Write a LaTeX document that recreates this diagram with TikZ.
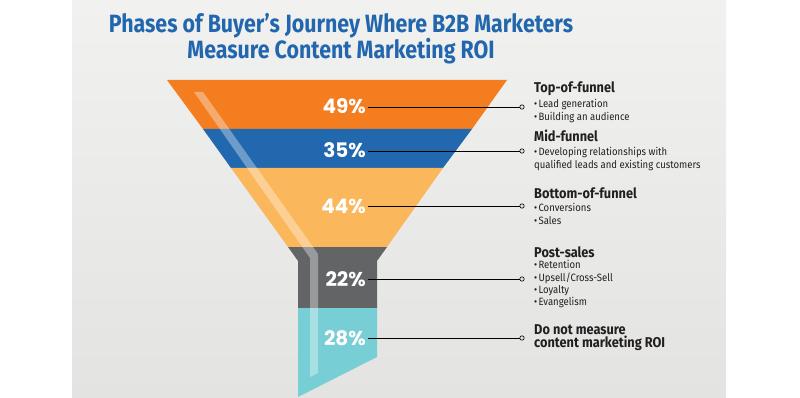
\documentclass[tikz,border=0pt]{standalone}
\usepackage{fontspec}
\setmainfont{Fira Sans}
\newfontfamily\titlefont{Fira Sans}[FakeStretch=0.855]
\newfontfamily\labelfont{Fira Sans}[FakeStretch=0.9]
\newfontfamily\pctfont{Poppins}
\usepackage{tikz}
\usetikzlibrary{positioning}
\definecolor{paneltop}{HTML}{F1F1F0}
\definecolor{panelbot}{HTML}{E3E3E2}
\definecolor{titleblue}{HTML}{2266AD}
\definecolor{textdark}{HTML}{231F20}
\definecolor{topfun}{HTML}{F47D20}
\definecolor{midfun}{HTML}{2168AE}
\definecolor{botfun}{HTML}{FBB75B}
\definecolor{postfun}{HTML}{636466}
\definecolor{nofun}{HTML}{78CED5}
\newcommand{\phasebullet}{\textbullet\hspace{0.12em}}

\begin{document}
\begin{tikzpicture}[x=1pt,y=-1pt,
  pct/.style={font=\pctfont\bfseries\fontsize{20}{20}\selectfont,text=white,anchor=east,inner xsep=2pt,inner ysep=0pt,text height=14pt,text depth=0pt},
  dot/.style={circle,draw=black,fill=panelbot,line width=0.6pt,inner sep=0pt,minimum size=4.4pt},
  head/.style={font=\labelfont\bfseries\fontsize{14.2}{13.5}\selectfont,text=textdark,anchor=base west,inner sep=0pt,align=left},
  items/.style={font=\labelfont\fontsize{10.6}{12.6}\selectfont,text=textdark,anchor=north west,inner sep=0pt,align=left},
  leader/.style={line width=0.8pt,black}]
\useasboundingbox (0,0) rectangle (800,398);
\shade[top color=paneltop,bottom color=panelbot] (72,0) rectangle (726,398);

% title
\node[font=\titlefont\bfseries\fontsize{25}{26}\selectfont,text=titleblue,align=center,anchor=north,inner sep=0pt]
  (title) at (341,13) {Phases of Buyer’s Journey Where B2B Marketers\\Measure Content Marketing ROI};

% funnel
\fill[topfun] (167,80) -- (507,80) -- (472,129) -- (203,129) -- cycle;
\fill[midfun] (203,129) -- (472,129) -- (443,168) -- (231,168) -- cycle;
\fill[botfun] (231,168) -- (443,168) -- (387,247) -- (288,247) -- cycle;
\fill[postfun] (288,247) -- (387,247) -- (377,261) -- (377,308) -- (298,308) -- (298,261) -- cycle;
\fill[nofun] (298,308) -- (377,308) -- (377,357) -- (298,397) -- cycle;
% glass highlight
\fill[white,opacity=0.35] (194,92) -- (203,92) -- (318,254) -- (318,373) -- (310,377) -- (310,258) -- cycle;

% percentages
\node[pct] (p1) at (368,107) {49\%};
\node[pct] (p2) at (368,151) {35\%};
\node[pct] (p3) at (368,206) {44\%};
\node[pct] (p4) at (368,279) {22\%};
\node[pct] (p5) at (368,338) {28\%};

% end points
\node[dot] (c1) at (522,107) {};
\node[dot] (c2) at (522,151) {};
\node[dot] (c3) at (522,206) {};
\node[dot] (c4) at (522,279) {};
\node[dot] (c5) at (522,338) {};

\foreach \i in {1,...,5}
  \draw[leader] (p\i.east) -- (c\i.west);

% phase labels
\node[head] (h1) at (534,93) {Top-of-funnel};
\node[items] (b1) at (534,99.5) {\phasebullet Lead generation\\\phasebullet Building an audience};
\node[head] (h2) at (534,142) {Mid-funnel};
\node[items] (b2) at (534,147.5) {\phasebullet Developing relationships with\\qualified leads and existing customers};
\node[head] (h3) at (534,198) {Bottom-of-funnel};
\node[items] (b3) at (534,203.5) {\phasebullet Conversions\\\phasebullet Sales};
\node[head] (h4) at (534,257) {Post-sales};
\node[items,font=\labelfont\fontsize{10.6}{12.2}\selectfont] (b4) at (534,260.5) {\phasebullet Retention\\\phasebullet Upsell/Cross-Sell\\\phasebullet Loyalty\\\phasebullet Evangelism};
\node[head,anchor=north west] (h5) at (534,324) {Do not measure\\content marketing ROI};
\end{tikzpicture}
\end{document}
